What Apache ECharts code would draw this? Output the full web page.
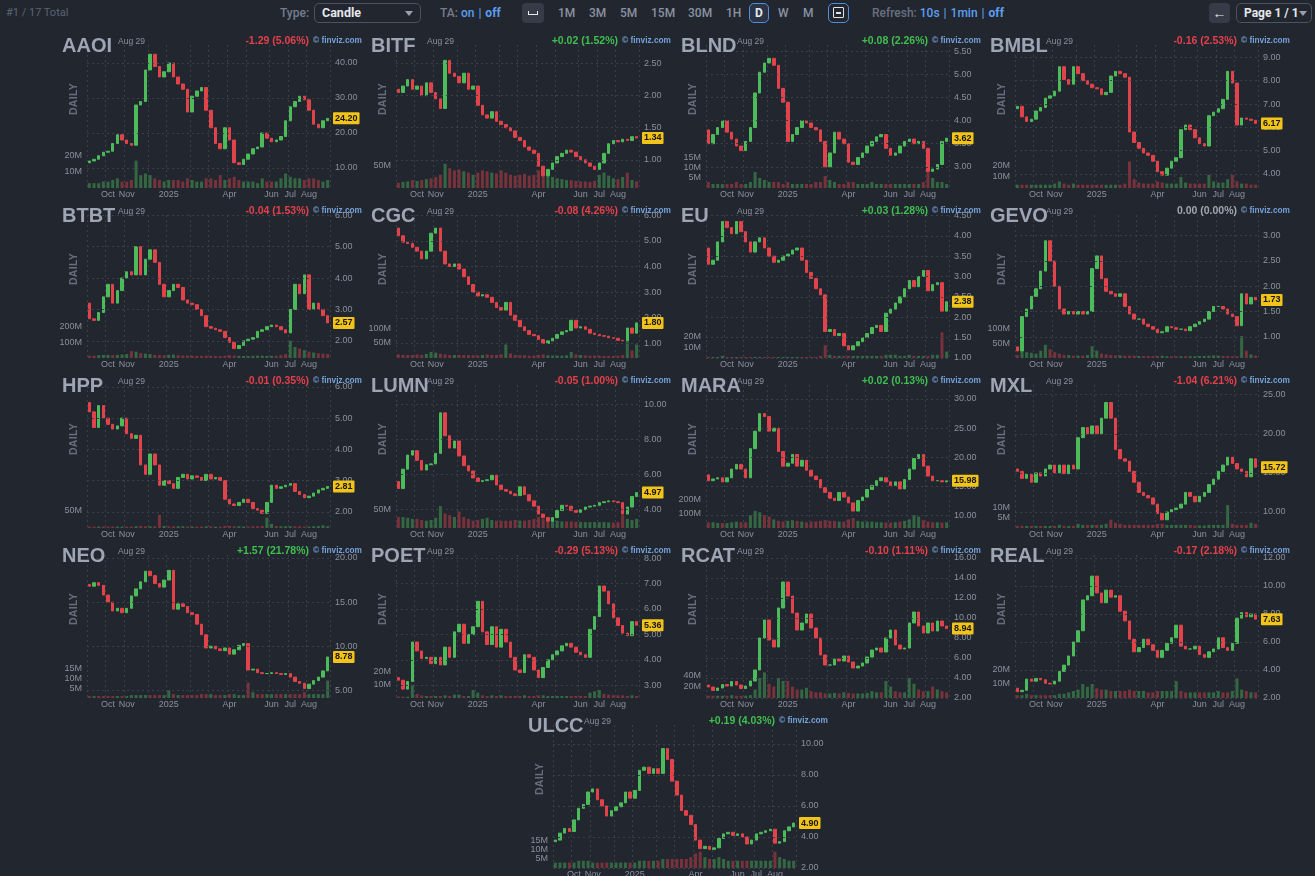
<!DOCTYPE html>
<html>
<head>
<meta charset="utf-8">
<script src="https://cdn.jsdelivr.net/npm/echarts@6/dist/echarts.min.js"></script>
<style>
  html, body { margin: 0; padding: 0; width: 1315px; height: 876px; overflow: hidden; background: #22262f; }
  body { position: relative; font-family: Roboto, "Liberation Sans", Arial, sans-serif; }
  .tb { position: absolute; top: 0; height: 26px; line-height: 26px; font-size: 12px; white-space: nowrap; color: #8a92a2; font-weight: 500; }
  .g { color: #757d8d; }
  .lk { color: #5c9ff0; }
  .sep { color: #5c9ff0; margin: 0 4px; }
  .box { position: absolute; top: 3px; height: 18px; border: 1px solid #4c5261; border-radius: 5px; box-sizing: content-box; }
  .btn { position: absolute; top: 3px; height: 20px; background: #363b47; border-radius: 4px; }
  .caret { position: absolute; top: 8px; width: 0; height: 0; border-left: 4px solid transparent; border-right: 4px solid transparent; border-top: 5px solid #9aa0ab; }
  .cell { position: absolute; width: 309px; height: 170px; }
  .plot { position: absolute; left: 0; top: 0; width: 309px; height: 172px; }
  .tk { position: absolute; left: 2px; top: 5px; font: bold 20px "Liberation Sans", Arial, sans-serif; line-height: 20px; color: #9ea5b5; }
  .dt { position: absolute; left: 58px; top: 6px; font: 8.5px "Liberation Sans", Arial, sans-serif; color: #8a91a0; }
  .chg { position: absolute; right: 60px; top: 4px; font: bold 10.5px "Liberation Sans", Arial, sans-serif; }
  .fv { position: absolute; left: 253px; top: 5px; font: bold 8.3px "Liberation Sans", Arial, sans-serif; color: #74a1d8; }
  .dl { position: absolute; left: -7px; top: 63px; width: 40px; height: 12px; line-height: 12px; text-align: center; transform: rotate(-90deg); font: bold 10.5px "Liberation Sans", Arial, sans-serif; color: #666d7c; letter-spacing: 0.3px; }
</style>
</head>
<body>
<!-- toolbar -->
<div class="tb" style="left:6px;font-size:11px;color:#5d6473;font-weight:400;">#1 / 17 Total</div>
<div class="tb g" style="left:280px;">Type:</div>
<div class="box" style="left:314px;width:105px;"><span style="position:absolute;left:7px;top:0;line-height:18px;font-size:12.5px;font-weight:bold;color:#e6e8ec;">Candle</span><i class="caret" style="left:90px;top:7px;"></i></div>
<div class="tb" style="left:440px;"><span class="g">TA:</span> <span class="lk">on</span><span class="sep">|</span><b class="lk">off</b></div>
<div class="btn" style="left:522px;width:22px;"><span style="position:absolute;left:6px;top:8px;width:8px;height:3px;border:1.5px solid #e8eaee;border-top:none;"></span></div>
<div class="tb" style="left:558px;">1M</div>
<div class="tb" style="left:589px;">3M</div>
<div class="tb" style="left:620px;">5M</div>
<div class="tb" style="left:651px;">15M</div>
<div class="tb" style="left:688px;">30M</div>
<div class="tb" style="left:726px;">1H</div>
<div class="box" style="left:749px;width:18px;border-color:#4f8fdc;background:#2b3446;"><span style="position:absolute;left:0;width:18px;text-align:center;line-height:18px;font-size:12px;font-weight:bold;color:#e8eaee;">D</span></div>
<div class="tb" style="left:778px;">W</div>
<div class="tb" style="left:803px;">M</div>
<div class="box" style="left:828px;width:19px;border-color:#4f8fdc;"><span style="position:absolute;left:4px;top:3px;width:9px;height:9px;border:1.5px solid #dfe3ea;border-radius:1px;"></span><span style="position:absolute;left:7px;top:8px;width:5px;height:1.5px;background:#dfe3ea;"></span></div>
<div class="tb" style="left:872px;"><span class="g" style="color:#687080;">Refresh:</span> <span class="lk">10s</span><span class="sep">|</span><span class="lk">1min</span><span class="sep">|</span><b class="lk">off</b></div>
<div class="btn" style="left:1209px;width:21px;"><span style="position:absolute;left:0;width:21px;text-align:center;line-height:20px;font-size:14px;color:#e6e8ec;">&#8592;</span></div>
<div class="box" style="left:1236px;width:74px;"><span style="position:absolute;left:7px;line-height:18px;font-size:12px;font-weight:bold;color:#e6e8ec;">Page 1 / 1</span><i class="caret" style="left:62px;top:7px;"></i></div>

<div id="cells"></div>

<script>
// week-ending dates (Fridays), one candle per week
var weeks = [
  '2024-09-06','2024-09-13','2024-09-20','2024-09-27','2024-10-04','2024-10-11','2024-10-18','2024-10-25','2024-11-01','2024-11-08',
  '2024-11-15','2024-11-22','2024-11-29','2024-12-06','2024-12-13','2024-12-20','2024-12-27','2025-01-03','2025-01-10','2025-01-17',
  '2025-01-24','2025-01-31','2025-02-07','2025-02-14','2025-02-21','2025-02-28','2025-03-07','2025-03-14','2025-03-21','2025-03-28',
  '2025-04-04','2025-04-11','2025-04-18','2025-04-25','2025-05-02','2025-05-09','2025-05-16','2025-05-23','2025-05-30','2025-06-06',
  '2025-06-13','2025-06-20','2025-06-27','2025-07-04','2025-07-11','2025-07-18','2025-07-25','2025-08-01','2025-08-08','2025-08-15',
  '2025-08-22','2025-08-29'
];
var monthNames = ['2025','Feb','Mar','Apr','May','Jun','Jul','Aug','Sep','Oct','Nov','Dec'];
var labelMonths = ['10','11','01','04','06','07','08'];

// prices: first value = open of first week, then weekly closes
var aaoiPx = [11.5,
  12.0,12.5,13.5,14.5,14.8,17.0,19.5,18.0,17.0,16.5,
  28.0,29.0,38.0,42.5,39.0,36.0,37.5,40.0,36.0,34.0,
  32.5,26.0,30.5,32.0,33.0,26.5,21.5,17.0,15.5,21.5,
  18.0,11.5,11.0,12.5,14.0,15.5,16.0,20.0,18.5,17.5,
  18.0,19.0,23.5,27.5,29.0,30.5,29.5,26.5,22.5,21.5,
  23.5,24.2];
var aaoiVol = [3,3,3,4,4,5,6,4,4,5, 17,8,9,8,6,5,4,5,5,5, 4,6,5,4,4,6,6,5,8,5, 6,7,5,4,4,4,3,6,4,4, 4,6,9,7,6,6,5,6,6,5, 4,5];

var bitfPx = [2.10,
  2.05,2.15,2.25,2.10,2.15,2.00,2.20,2.05,1.95,1.80,
  2.55,2.35,2.30,2.20,2.35,2.10,2.15,1.85,1.70,1.65,
  1.75,1.60,1.55,1.50,1.45,1.35,1.30,1.20,1.15,1.10,
  0.90,0.75,0.85,0.95,1.05,1.10,1.15,1.12,1.05,1.00,
  0.95,0.90,0.85,0.95,1.10,1.25,1.30,1.28,1.32,1.30,
  1.36,1.34];
var bitfVol = [12,14,15,18,16,18,20,22,25,30, 55,45,40,42,38,35,30,35,40,38, 35,33,40,35,30,28,30,32,28,30, 40,35,28,25,22,20,18,18,16,15, 15,14,16,30,35,28,22,20,25,35, 18,15];

var blndPx = [3.80,
  3.50,3.70,3.85,4.00,3.75,3.60,3.45,3.35,3.55,3.85,
  4.60,5.05,5.25,5.35,5.20,4.70,4.40,3.55,3.70,3.85,
  4.00,3.95,3.85,3.80,3.55,3.00,3.30,3.75,3.60,3.50,
  3.10,3.05,3.20,3.30,3.45,3.55,3.65,3.70,3.40,3.25,
  3.30,3.45,3.55,3.60,3.50,3.55,3.40,2.90,2.95,3.05,
  3.55,3.62];
var blndVol = [3,2,2,2,2,2,3,2,2,3, 8,5,4,3,3,3,2,3,2,2, 2,2,2,3,3,6,4,3,2,2, 3,3,2,2,2,3,2,2,2,2, 2,2,2,2,2,2,3,8,5,3, 3,2];

var bmblPx = [6.80,
  6.90,6.45,6.25,6.35,6.70,6.85,7.25,7.35,7.55,8.60,
  8.05,7.85,8.60,8.30,8.00,7.85,7.70,7.65,7.40,7.50,
  8.20,8.40,8.30,8.15,5.80,5.35,5.10,4.90,4.80,4.55,
  4.10,3.95,4.25,4.55,4.70,5.90,6.10,5.90,5.55,5.30,
  5.20,6.50,6.65,6.80,7.20,8.40,7.90,6.10,6.40,6.35,
  6.30,6.17];
var bmblVol = [3,3,3,3,3,3,3,3,4,6, 4,3,4,3,3,3,3,3,3,3, 3,3,3,4,24,8,5,4,4,4, 6,5,4,4,4,10,5,4,4,4, 4,12,6,5,5,8,12,6,4,4, 3,3];

var btbtPx = [3.20,
  2.70,2.65,2.90,3.40,3.80,3.20,3.60,4.00,4.20,4.10,
  5.00,4.10,4.60,4.90,4.50,3.80,3.40,3.60,3.80,3.70,
  3.30,3.20,3.15,3.00,2.80,2.45,2.40,2.35,2.30,2.10,
  1.95,1.75,1.85,2.00,2.05,2.10,2.30,2.35,2.45,2.50,
  2.45,2.35,2.25,3.00,3.80,3.50,4.10,3.00,3.20,3.00,
  2.80,2.57];
var btbtVol = [15,15,18,20,20,18,20,22,25,45, 40,30,28,25,20,18,18,20,22,18, 16,15,15,14,14,15,14,13,12,14, 18,16,14,13,12,14,15,15,14,14, 15,18,25,110,70,60,50,40,35,30, 28,25];

var cgcPx = [5.50,
  5.20,4.95,4.90,4.75,4.60,4.30,4.60,5.30,5.50,4.60,
  4.10,4.00,4.10,3.90,3.60,3.30,3.00,2.85,2.90,2.80,
  2.60,2.40,2.30,2.60,2.10,1.90,1.65,1.50,1.35,1.30,
  1.15,1.00,1.10,1.20,1.35,1.45,1.50,1.90,1.60,1.65,
  1.55,1.40,1.35,1.30,1.28,1.22,1.20,1.12,1.10,1.60,
  1.40,1.80];
var cgcVol = [12,10,10,10,12,10,14,20,18,14, 12,10,10,10,10,10,9,9,10,12, 10,10,12,45,15,10,9,9,8,8, 10,12,9,8,8,8,9,20,12,10, 9,8,8,8,7,7,7,8,10,55, 25,45];

var euPx = [3.70,
  3.30,3.40,3.85,4.35,4.20,4.05,4.35,4.10,3.85,3.60,
  3.85,3.95,3.70,3.50,3.35,3.40,3.50,3.55,3.65,3.70,
  3.40,3.10,2.95,2.70,2.55,1.65,1.70,1.55,1.60,1.30,
  1.20,1.30,1.40,1.50,1.60,1.75,1.80,1.65,2.10,2.20,
  2.35,2.50,2.70,2.90,2.75,3.00,3.15,2.65,2.80,2.85,
  2.15,2.38];
var euVol = [1,1,1,2,1,1,1,1,1,1, 1,1,1,1,1,1,1,1,1,1, 1,1,1,1,2,12,3,2,2,2, 2,2,2,2,2,2,2,2,3,3, 3,2,2,3,2,2,2,2,3,3, 24,6];

var gevoPx = [0.80,
  0.72,1.40,1.55,1.80,1.95,2.30,2.90,2.50,2.00,1.55,
  1.45,1.50,1.45,1.50,1.45,1.50,2.35,2.60,2.15,1.90,
  1.85,1.80,1.85,1.60,1.45,1.35,1.35,1.25,1.20,1.15,
  1.08,1.10,1.20,1.18,1.15,1.15,1.12,1.20,1.25,1.30,
  1.35,1.50,1.60,1.60,1.55,1.45,1.40,1.22,1.85,1.65,
  1.78,1.73];
var gevoVol = [10,45,20,18,15,25,45,30,20,15, 10,10,8,8,8,10,40,25,15,12, 10,9,9,8,8,8,7,7,7,6, 7,8,6,6,6,6,6,6,6,7, 7,8,9,8,7,7,6,6,75,25, 12,8];

var hppPx = [5.50,
  5.20,4.70,5.40,5.00,4.80,4.65,4.75,5.00,4.50,4.35,
  4.45,3.50,3.20,3.85,3.50,2.85,3.00,2.90,2.75,3.10,
  3.20,3.05,3.15,3.10,3.00,3.20,3.05,3.10,3.00,2.40,
  2.25,2.20,2.30,2.40,2.30,2.10,2.05,1.95,2.30,2.85,
  2.75,2.80,2.85,2.90,2.65,2.55,2.45,2.50,2.60,2.70,
  2.75,2.81];
var hppVol = [4,4,4,4,4,4,4,4,4,4, 5,6,5,5,5,38,6,5,5,5, 5,4,4,4,4,5,5,4,4,6, 6,5,5,4,4,5,5,6,30,12, 6,5,5,5,5,5,4,4,5,6, 8,5];

var lumnPx = [5.60,
  5.20,6.30,7.10,7.35,6.80,6.25,6.55,6.60,7.20,9.50,
  8.20,7.50,7.90,7.05,6.50,6.20,5.80,5.60,5.65,5.70,
  5.95,5.40,5.15,5.05,4.90,4.80,5.30,4.85,4.50,4.20,
  3.75,3.55,3.35,3.55,3.95,4.25,4.20,3.95,3.85,4.00,
  4.15,4.20,4.25,4.40,4.45,4.50,4.45,4.40,3.75,4.15,
  4.75,4.97];
var lumnVol = [30,30,28,25,25,22,20,22,28,60, 40,35,30,45,30,25,20,22,25,28, 22,20,20,20,20,22,20,20,22,25, 30,25,22,20,20,18,18,18,17,16, 16,16,16,16,16,15,15,16,35,25, 22,25];

var maraPx = [17.0,
  16.0,16.3,16.5,15.8,16.5,18.0,18.8,18.0,16.5,21.5,
  24.5,27.5,27.0,24.5,25.0,21.0,18.5,19.0,20.5,18.5,
  19.5,17.8,16.8,16.2,14.8,14.0,13.0,12.6,14.0,13.2,
  12.2,10.8,12.6,13.2,14.5,15.2,16.0,16.5,15.8,15.2,
  15.8,14.6,16.2,18.0,19.8,20.5,18.5,16.8,16.0,16.0,
  15.8,15.98];
var maraVol = [40,40,35,35,35,40,45,40,40,90, 120,110,90,80,60,50,45,50,55,50, 45,40,45,45,50,55,50,50,45,45, 60,70,50,45,45,45,40,40,38,38, 40,45,50,60,90,80,55,45,40,40, 38,40];

var mxlPx = [15.5,
  15.2,14.3,14.8,13.8,15.0,14.6,15.5,16.0,15.0,16.0,
  14.9,16.0,15.5,19.5,20.8,20.0,21.0,20.0,22.0,24.0,
  22.0,18.0,16.8,16.5,15.2,13.8,12.5,12.1,11.8,11.0,
  9.8,9.0,10.0,10.3,10.5,11.0,12.5,12.0,11.3,12.0,
  12.5,13.5,14.2,15.2,16.0,17.0,16.2,15.5,15.2,14.5,
  16.8,15.72];
var mxlVol = [1,1,1,1,1,1,1,1,1,1.5, 1,1,1,2,1.5,1.5,1.5,1.5,1.5,2, 4,2.5,2,1.5,1.5,1.5,1.5,1.5,1.5,1.5, 2,2,1.5,1.5,1.5,1.5,1.5,1.5,1.2,1.2, 1.2,1.5,1.5,1.5,1.5,11,2,1.5,1.5,1.5, 2.5,2];

var neoPx = [17.0,
  16.8,17.2,16.9,15.8,15.0,14.0,14.3,13.8,14.3,15.7,
  16.5,17.3,18.5,18.0,17.1,16.7,17.5,18.6,14.2,14.8,
  14.5,13.8,13.6,12.5,11.3,9.8,10.0,9.7,9.5,9.8,
  9.1,9.6,10.1,10.3,7.3,7.4,7.0,6.9,6.9,7.0,
  6.9,6.8,6.9,6.5,6.0,5.8,5.2,5.7,6.1,6.5,
  7.2,8.78];
var neoVol = [1,1,1,1,1,1,1,1,1,1.5, 1.5,1.5,1.5,1.5,1.5,1.5,1.5,4,2,1.5, 1.5,1.5,1.5,1.5,2,2,2,1.5,1.5,1.5, 2,2,1.5,1.5,8,3,2,2,2,2, 2,2,2,2,2,2,3,2,2,2, 2,9];

var poetPx = [3.30,
  3.20,2.85,3.15,4.70,4.35,4.05,4.10,3.85,4.10,3.80,
  4.50,4.10,5.10,5.40,4.65,5.00,5.30,6.30,5.10,4.60,
  5.30,4.50,5.20,4.70,4.10,3.60,3.50,4.20,4.10,3.60,
  3.30,3.70,4.00,4.20,4.35,4.55,4.65,4.50,4.30,4.20,
  4.10,5.20,5.70,6.90,6.70,6.20,5.65,5.35,5.05,4.95,
  5.50,5.36];
var poetVol = [1,1,1,10,3,2,1.5,1.5,1.5,1.5, 2,1.5,2.5,2.5,1.5,1.5,6,4,2,1.5, 2,1.5,2,1.5,1.5,1.5,1.5,2,1.5,1.5, 2,2,1.5,1.5,1.5,1.5,1.5,1.5,1.5,1.5, 1.5,4,5,6,3,2.5,2,2,2,1.5, 2,1.5];

var rcatPx = [3.30,
  3.10,2.75,3.00,3.35,3.20,3.65,3.30,2.95,3.20,3.70,
  4.80,8.00,9.80,7.80,7.10,11.00,13.60,12.20,10.50,8.80,
  9.50,10.40,9.00,8.00,6.30,5.30,5.30,5.90,5.70,6.20,
  5.60,5.00,5.20,5.50,6.10,6.80,7.00,6.60,8.00,8.80,
  7.30,6.90,7.00,9.50,10.60,9.20,8.50,9.50,8.70,9.70,
  9.20,8.94];
var rcatVol = [4,4,4,4,4,5,4,4,4,5, 15,35,45,25,20,35,30,30,20,15, 15,18,12,10,10,8,8,9,8,10, 9,8,8,8,9,12,10,10,30,20, 12,10,10,35,25,15,12,12,20,15, 12,10];

var realPx = [2.70,
  2.45,2.55,3.35,3.20,3.40,3.30,3.05,3.00,3.20,3.90,
  4.35,5.00,6.00,6.80,9.00,9.30,10.70,9.50,8.80,9.70,
  9.20,9.30,8.20,7.50,6.20,5.30,5.60,6.20,5.80,5.40,
  4.90,5.40,5.90,6.30,7.20,5.70,5.50,5.50,5.70,5.10,
  4.90,5.30,5.50,6.30,5.60,5.40,5.90,7.70,8.10,7.80,
  8.00,7.63];
var realVol = [2,2,3,2,2,2,2,2,2,3, 3,4,5,6,10,8,10,7,6,6, 5,5,5,5,6,5,5,5,4,4, 5,5,5,5,12,5,4,4,4,4, 4,4,4,5,4,4,5,14,6,5, 4,4];

var ulccPx = [3.70,
  3.80,4.25,4.55,4.35,5.10,5.85,6.10,6.90,7.10,6.40,
  6.00,5.35,5.70,5.95,6.20,6.90,6.50,7.00,8.30,8.50,
  8.10,8.40,8.10,9.70,9.00,7.60,6.70,5.70,5.40,4.80,
  3.80,3.25,3.40,3.20,3.30,3.90,4.20,4.30,4.10,4.20,
  4.00,3.55,3.80,4.20,4.30,4.40,4.50,3.60,3.70,4.40,
  4.65,4.90];
var ulccVol = [3,3,3,3,3,4,4,4,3,3, 3,3,3,3,3,3,3,3,4,4, 4,4,4,5,5,5,5,5,5,6, 8,9,6,5,5,6,5,4,4,4, 4,4,4,4,4,4,4,9,6,5, 4,4];

// header + axis setup per ticker
var charts = [
  {tk:'AAOI', chg:'-1.29 (5.06%)', tone:'dn', px:aaoiPx, vol:aaoiVol, yMin:4.29, yMax:45.14, ticks:[10,20,30,40], vMax:89, vStep:10, vTop:20},
  {tk:'BITF', chg:'+0.02 (1.52%)', tone:'up', px:bitfPx, vol:bitfVol, yMin:0.56, yMax:2.79, ticks:[1.0,1.5,2.0,2.5], vMax:325, vStep:50, vTop:50},
  {tk:'BLND', chg:'+0.08 (2.26%)', tone:'up', px:blndPx, vol:blndVol, yMin:2.54, yMax:5.64, ticks:[3.0,3.5,4.0,4.5,5.0,5.5], vMax:71.5, vStep:5, vTop:15},
  {tk:'BMBL', chg:'-0.16 (2.53%)', tone:'dn', px:bmblPx, vol:bmblVol, yMin:3.40, yMax:9.53, ticks:[4,5,6,7,8,9], vMax:130, vStep:10, vTop:20},
  {tk:'BTBT', chg:'-0.04 (1.53%)', tone:'dn', px:btbtPx, vol:btbtVol, yMin:1.45, yMax:6.01, ticks:[2,3,4,5,6], vMax:911, vStep:100, vTop:200},
  {tk:'CGC', chg:'-0.08 (4.26%)', tone:'dn', px:cgcPx, vol:cgcVol, yMin:0.43, yMax:6.01, ticks:[1,2,3,4,5,6], vMax:477, vStep:50, vTop:100},
  {tk:'EU', chg:'+0.03 (1.28%)', tone:'up', px:euPx, vol:euVol, yMin:1.00, yMax:4.51, ticks:[1.0,1.5,2.0,2.5,3.0,3.5,4.0,4.5], vMax:134, vStep:10, vTop:20},
  {tk:'GEVO', chg:'0.00 (0.00%)', tone:'nt', px:gevoPx, vol:gevoVol, yMin:0.58, yMax:3.41, ticks:[1.0,1.5,2.0,2.5,3.0], vMax:488, vStep:50, vTop:100},
  {tk:'HPP', chg:'-0.01 (0.35%)', tone:'dn', px:hppPx, vol:hppVol, yMin:1.48, yMax:6.06, ticks:[2,3,4,5,6], vMax:413, vStep:50, vTop:50},
  {tk:'LUMN', chg:'-0.05 (1.00%)', tone:'dn', px:lumnPx, vol:lumnVol, yMin:2.96, yMax:11.08, ticks:[4,6,8,10], vMax:391, vStep:50, vTop:50},
  {tk:'MARA', chg:'+0.02 (0.13%)', tone:'up', px:maraPx, vol:maraVol, yMin:7.90, yMax:32.40, ticks:[10,15,20,25,30], vMax:1000, vStep:100, vTop:200},
  {tk:'MXL', chg:'-1.04 (6.21%)', tone:'dn', px:mxlPx, vol:mxlVol, yMin:7.95, yMax:26.24, ticks:[10,15,20,25], vMax:68.75, vStep:5, vTop:10},
  {tk:'NEO', chg:'+1.57 (21.78%)', tone:'up', px:neoPx, vol:neoVol, yMin:4.13, yMax:20.34, ticks:[5,10,15,20], vMax:73.7, vStep:5, vTop:15},
  {tk:'POET', chg:'-0.29 (5.13%)', tone:'dn', px:poetPx, vol:poetVol, yMin:2.50, yMax:8.12, ticks:[3,4,5,6,7,8], vMax:107, vStep:10, vTop:20},
  {tk:'RCAT', chg:'-0.10 (1.11%)', tone:'dn', px:rcatPx, vol:rcatVol, yMin:2.00, yMax:16.30, ticks:[2,4,6,8,10,12,14,16], vMax:251, vStep:20, vTop:40},
  {tk:'REAL', chg:'-0.17 (2.18%)', tone:'dn', px:realPx, vol:realVol, yMin:2.00, yMax:12.21, ticks:[2,4,6,8,10,12], vMax:102, vStep:10, vTop:20},
  {tk:'ULCC', chg:'+0.19 (4.03%)', tone:'up', px:ulccPx, vol:ulccVol, yMin:2.00, yMax:11.22, ticks:[2,4,6,8,10], vMax:79, vStep:5, vTop:15}
];
var cellPos = [[60,30],[369,30],[679,30],[988,30],[60,200],[369,200],[679,200],[988,200],
  [60,370],[369,370],[679,370],[988,370],[60,540],[369,540],[679,540],[988,540],[526,710]];

var UP = '#4cbb5a', DN = '#e2434b';
var VUP = 'rgba(76,187,90,0.45)', VDN = 'rgba(226,67,75,0.45)';
var GRID = '#3a3f4b', TXT = '#8a909e', FONT = '"Liberation Sans", Arial, sans-serif';
var toneColor = {up:'#3fbf4f', dn:'#e3404a', nt:'#a0a6b2'};

var monthStart = weeks.map(function (w, i) { return i === 0 || w.slice(5, 7) !== weeks[i - 1].slice(5, 7); });
var showLabel = weeks.map(function (w, i) { return i > 0 && monthStart[i] && labelMonths.indexOf(w.slice(5, 7)) >= 0; });

function drawChart(dom, c) {
  var candles = [], vols = [];
  for (var i = 1; i < c.px.length; i++) {
    var o = c.px[i - 1], cl = c.px[i];
    candles.push([o, cl, Math.min(o, cl), Math.max(o, cl)]);
    vols.push({value: c.vol[i - 1], itemStyle: {color: cl >= o ? VUP : VDN}});
  }
  var last = c.px[c.px.length - 1];
  var gridLines = c.ticks.map(function (t) {
    return {yAxis: t, label: {formatter: t.toFixed(2)}};
  });
  var myChart = echarts.init(dom, null, {renderer: 'canvas'});
  var option = {
    animation: false,
    grid: {left: 27, top: 15, width: 243, height: 143, outerBoundsMode: 'none'},
    xAxis: {
      type: 'category',
      data: weeks,
      boundaryGap: true,
      axisLine: {show: false},
      axisTick: {show: false},
      axisLabel: {
        interval: function (i) { return showLabel[i]; },
        formatter: function (v) { return monthNames[(+v.slice(5, 7) + 11) % 12]; },
        color: TXT, fontSize: 9, fontFamily: FONT, margin: 2
      },
      splitLine: {show: true, interval: function (i) { return monthStart[i]; }, lineStyle: {color: GRID, type: [2, 3], width: 1}}
    },
    yAxis: [
      {type: 'value', min: c.yMin, max: c.yMax, position: 'right', axisLine: {show: false}, axisTick: {show: false}, axisLabel: {show: false}, splitLine: {show: false}},
      {type: 'value', min: 0, max: c.vMax, interval: c.vStep, position: 'left', axisLine: {show: false}, axisTick: {show: false}, splitLine: {show: false},
        axisLabel: {
          formatter: function (v) { return (v > 0 && v <= c.vTop) ? v + 'M' : ''; },
          color: TXT, fontSize: 9, fontFamily: FONT, margin: 5
        }}
    ],
    series: [
      {type: 'line', yAxisIndex: 0, data: [], z: 1, silent: true,
        markLine: {silent: true, symbol: ['none', 'none'], animation: false,
          lineStyle: {color: GRID, type: [2, 3], width: 1},
          label: {position: 'end', color: TXT, fontSize: 9, fontFamily: FONT, distance: 5},
          data: gridLines}},
      {type: 'bar', yAxisIndex: 1, data: vols, barWidth: 3, silent: true, z: 2},
      {type: 'candlestick', yAxisIndex: 0, data: candles, barWidth: 3, z: 3, silent: true,
        itemStyle: {color: UP, color0: DN, borderColor: UP, borderColor0: DN, borderWidth: 1},
        markLine: {silent: true, symbol: ['none', 'none'], animation: false,
          lineStyle: {color: 'rgba(0,0,0,0)', width: 1, type: 'solid'},
          label: {show: true, position: 'end', distance: 3, formatter: last.toFixed(2), color: '#161616', fontWeight: 'bold',
            fontSize: 9, fontFamily: FONT, backgroundColor: '#f2c318', padding: [2, 2, 1, 2], borderRadius: 1},
          data: [{yAxis: last}]}}
    ]
  };
  myChart.setOption(option);
}

var host = document.getElementById('cells');
charts.forEach(function (c, k) {
  var cell = document.createElement('div');
  cell.className = 'cell';
  cell.style.left = cellPos[k][0] + 'px';
  cell.style.top = cellPos[k][1] + 'px';
  cell.innerHTML =
    '<div class="plot"></div>' +
    '<div class="tk">' + c.tk + '</div>' +
    '<div class="dt">Aug 29</div>' +
    '<div class="chg" style="color:' + toneColor[c.tone] + '">' + c.chg + '</div>' +
    '<div class="fv">&copy; finviz.com</div>' +
    '<div class="dl">DAILY</div>';
  host.appendChild(cell);
  drawChart(cell.querySelector('.plot'), c);
});
</script>
</body>
</html>
